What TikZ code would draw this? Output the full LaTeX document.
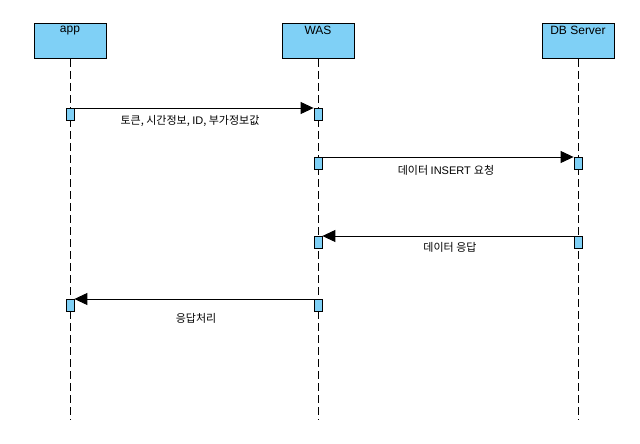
\documentclass[tikz,border=0pt]{standalone}
\usepackage{fontspec}
\setmainfont{Liberation Sans}
\newfontfamily\kr{Noto Sans CJK KR}
\usetikzlibrary{arrows.meta}
\definecolor{boxblue}{RGB}{127,208,246}
\tikzset{
  header/.style={draw=black, line width=1pt, fill=boxblue, minimum width=72pt, minimum height=35pt, anchor=north, inner sep=0pt},
  headtext/.style={anchor=north, inner sep=0pt, font=\fontsize{12}{14}\selectfont},
  life/.style={draw=black, line width=1pt, dash pattern=on 8pt off 4pt},
  actbox/.style={draw=black, line width=0.8pt, fill=boxblue, minimum width=8pt, minimum height=12pt, inner sep=0pt, anchor=north},
  msg/.style={draw=black, line width=1pt, -{Triangle[length=13pt,width=12pt]}},
  lbl/.style={inner sep=0pt, font=\fontsize{11}{13}\selectfont}
}
\begin{document}
\begin{tikzpicture}[x=1pt,y=-1pt]
\useasboundingbox (0,0) rectangle (640,444);
% headers
\node[header] (app) at (70,23) {};
\node[header] (was) at (318,23) {};
\node[header] (db) at (578,23) {};
\node[headtext] (appt) at (70,26) {app};
\node[headtext] (wast) at (318,26) {WAS};
\node[headtext] (dbt) at (578,26) {DB Server};
% lifeline ends
\coordinate (appe) at (70,420);
\coordinate (wase) at (318,420);
\coordinate (dbe) at (578,420);
\draw[life] (app.south) -- (appe);
\draw[life] (was.south) -- (wase);
\draw[life] (db.south) -- (dbe);
% activations
\node[actbox] (a1) at (70,108) {};
\node[actbox] (w1) at (318,108) {};
\node[actbox] (w2) at (318,157) {};
\node[actbox] (d2) at (578,157) {};
\node[actbox] (w3) at (318,236) {};
\node[actbox] (d3) at (578,236) {};
\node[actbox] (w4) at (318,299) {};
\node[actbox] (a4) at (70,299) {};
% messages
\draw[msg] (a1.north east) -- (w1.north west);
\draw[msg] (w2.north east) -- (d2.north west);
\draw[msg] (d3.north west) -- (w3.north east);
\draw[msg] (w4.north west) -- (a4.north east);
% labels
\node[lbl] (l1) at (190,121) {{\kr 토큰, 시간정보, }ID{\kr , 부가정보값}};
\node[lbl] (l2) at (446,170) {{\kr 데이터 }INSERT {\kr 요청}};
\node[lbl] (l3) at (450,247) {\kr 데이터 응답};
\node[lbl] (l4) at (196,318) {\kr 응답처리};
\end{tikzpicture}
\end{document}
